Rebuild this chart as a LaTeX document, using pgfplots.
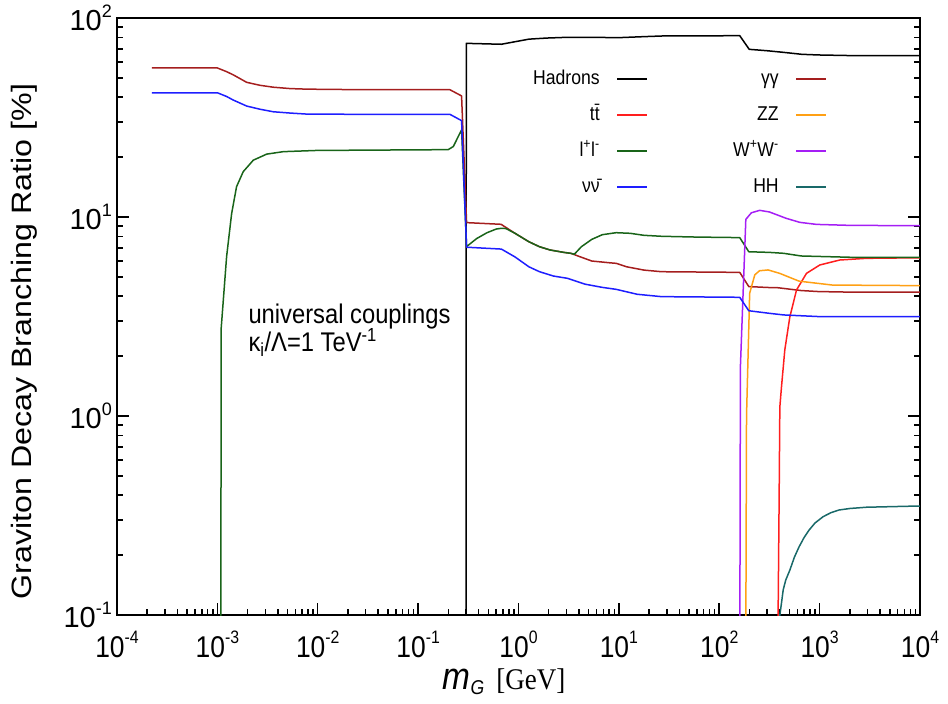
\documentclass[border=0pt]{standalone}
\usepackage{fontspec}
\setmainfont{Liberation Sans}
\newfontfamily\hf[FakeStretch=0.88]{Liberation Sans}
\newfontfamily\vf[FakeStretch=1.15]{Liberation Sans}
\newfontfamily\serifhf[FakeStretch=0.9]{Liberation Serif}
\usepackage{pgfplots}
\pgfplotsset{compat=1.18}
\definecolor{cHad}{RGB}{0,0,0}
\definecolor{cGam}{RGB}{165,30,30}
\definecolor{cTop}{RGB}{255,30,30}
\definecolor{cZZ}{RGB}{255,160,20}
\definecolor{cLL}{RGB}{25,100,25}
\definecolor{cWW}{RGB}{165,30,245}
\definecolor{cNu}{RGB}{30,30,255}
\definecolor{cHH}{RGB}{25,105,105}
\newcommand{\tk}[1]{10\raisebox{14pt}{\fontsize{18}{18}\selectfont #1}}
\newcommand{\tky}[1]{10\raisebox{13.5pt}{\fontsize{18}{18}\selectfont #1}}
\begin{document}
\begin{tikzpicture}
\begin{axis}[
  scale only axis, width=803pt, height=597pt,
  xmode=log, ymode=log,
  xmin=1e-4, xmax=1e4, ymin=0.1, ymax=100,
  xtick={1e-4,1e-3,1e-2,1e-1,1,10,100,1000,10000},
  xticklabels={\tk{-4},\tk{-3},\tk{-2},\tk{-1},\tk{0},\tk{1},\tk{2},\tk{3},\tk{4}},
  ytick={0.1,1,10,100},
  yticklabels={\tky{-1},\tky{0},\tky{1},\tky{2}},
  xtick pos=left, ytick pos=both,
  tick align=inside,
  major tick length=12pt, minor tick length=6pt,
  every tick/.style={black, line width=1.5pt},
  axis line style={line width=2pt},
  xticklabel style={font=\hf\fontsize{30}{32}\selectfont, anchor=north, inner sep=0pt, yshift=-16pt},
  yticklabel style={font=\fontsize{29}{32}\selectfont, anchor=east, inner sep=0pt, xshift=-5pt},
  every axis plot/.append style={line width=1.5pt, line join=round},
  legend columns=2, legend plot pos=right, legend cell align=right,
  legend image code/.code={\draw[#1] (0pt,0pt) -- (30pt,0pt);},
  legend style={draw=none, fill=none, at={(0.518,0.9146)}, anchor=north west, inner sep=0pt,
    font=\hf\fontsize{20}{20}\selectfont, row sep=16pt, column sep=17pt,
    /tikz/every even column/.append style={column sep=85pt},
    nodes={inner sep=0pt, text height=15pt, text depth=5pt}},
]
% Hadrons
\addplot[cHad] coordinates {(0.300,0.01) (0.302,74.6) (0.675,73.8) (0.923,76.0) (1.27,78.3) (1.90,79.3) (3.09,80.0) (5.82,80.0) (9.5,79.6) (17.8,80.6) (26.8,81.2) (160,81.5) (199,69.6) (298,68.5) (438,67.2) (664,65.7) (975,65.2) (2190,64.7) (10000,64.7)};
\addlegendentry{Hadrons}
% gamma gamma
\addplot[cGam] coordinates {(2.22e-4,56.1) (1.0e-3,56.1) (1.24e-3,53.7) (1.44e-3,51.8) (1.96e-3,47.5) (2.66e-3,45.9) (3.6e-3,44.9) (5.28e-3,44.2) (7.76e-3,43.9) (0.0307,43.6) (0.2075,43.6) (0.271,40.6) (0.304,9.37) (0.671,9.19) (0.923,8.28) (1.27,7.51) (1.62,7.09) (2.06,6.83) (2.83,6.64) (3.32,6.57) (3.91,6.37) (5.37,6.01) (8.02,5.89) (9.40,5.85) (11.97,5.62) (17.8,5.41) (26.6,5.31) (160,5.27) (197,4.47) (318,4.42) (372,4.42) (655,4.27) (975,4.22) (2170,4.19) (10000,4.19)};
\addlegendentry{γγ}
% t tbar
\addplot[cTop] coordinates {(384,0.01) (386,0.1) (395,0.378) (401.5,1.11) (417,1.40) (450,2.15) (505,3.15) (589,4.30) (740,5.21) (1004,5.74) (1590,6.08) (2930,6.2) (9720,6.24) (10000,6.24)};
\addlegendentry{t\={t}}
% ZZ
\addplot[cZZ] coordinates {(183.5,0.01) (184.3,0.1) (187,1.0) (201,4.14) (226,5.12) (252,5.37) (307,5.42) (400,5.21) (624,4.76) (1340,4.55) (10000,4.52)};
\addlegendentry{ZZ}
% l+ l-
\addplot[cLL] coordinates {(1.083e-3,0.01) (1.086e-3,0.1) (1.088e-3,2.7) (1.236e-3,6.32) (1.387e-3,10.4) (1.553e-3,14.2) (1.81e-3,16.9) (2.28e-3,19.3) (3.1e-3,20.7) (4.54e-3,21.3) (9.75e-3,21.6) (0.1995,21.8) (0.224,22.6) (0.271,27.4) (0.304,7.1) (0.384,7.8) (0.486,8.34) (0.6,8.7) (0.671,8.77) (0.75,8.75) (0.923,8.28) (1.27,7.51) (1.62,7.09) (2.06,6.83) (2.83,6.64) (3.32,6.57) (3.6,6.5) (4.23,7.09) (5.37,7.72) (6.84,8.15) (9.40,8.34) (12.97,8.28) (17.8,8.09) (26.6,8.0) (59.2,7.93) (160,7.88) (197,6.69) (318,6.64) (438,6.57) (655,6.37) (2170,6.27) (10000,6.27)};
\addlegendentry{l\textsuperscript{+}l\textsuperscript{-}}
% W+ W-
\addplot[cWW] coordinates {(160.0,0.01) (160.6,0.1) (162.5,1.77) (184,9.73) (209,10.5) (253,10.8) (316,10.6) (464,9.85) (634,9.4) (931,9.18) (1960,9.08) (10000,9.04)};
\addlegendentry{W\textsuperscript{+}W\textsuperscript{-}}
% nu nubar
\addplot[cNu] coordinates {(2.22e-4,42.1) (1.0e-3,42.1) (1.24e-3,40.3) (1.44e-3,38.7) (1.96e-3,36.1) (2.66e-3,34.8) (3.6e-3,33.8) (5.28e-3,33.3) (7.76e-3,32.9) (0.0307,32.8) (0.2075,32.8) (0.271,30.5) (0.304,7.05) (0.675,6.9) (0.923,6.3) (1.27,5.62) (1.62,5.31) (2.23,5.05) (3.07,4.92) (4.57,4.6) (6.83,4.43) (9.4,4.33) (15.2,4.09) (26.6,3.98) (160,3.95) (197,3.38) (318,3.28) (439,3.22) (975,3.16) (10000,3.16)};
\addlegendentry{ν\={ν}}
% HH
\addplot[cHH] coordinates {(400,0.09) (402,0.1) (434,0.134) (460,0.15) (505,0.168) (560,0.195) (624,0.22) (700,0.245) (785,0.267) (900,0.29) (1084,0.312) (1300,0.327) (1560,0.337) (2000,0.343) (2930,0.348) (9730,0.353) (10000,0.353)};
\addlegendentry{HH}
\node[anchor=base west, font=\hf\fontsize{27}{27}\selectfont] at (rel axis cs:0.1594,0.4891) {universal couplings};
\node[anchor=base west, font=\hf\fontsize{27}{27}\selectfont] at (rel axis cs:0.1594,0.4422) {κ\textsubscript{i}/Λ=1 TeV\textsuperscript{-1}};
\coordinate (ylab) at (rel axis cs:0,0.458);
\coordinate (xlab) at (rel axis cs:0.482,0);
\end{axis}
\node[rotate=90, anchor=base, font=\vf\fontsize{28}{28}\selectfont] at ([xshift=-85pt]ylab) {Graviton Decay Branching Ratio [\%]};
\node[anchor=base, inner sep=0pt] at ([yshift=-75pt]xlab) {{\hf\fontsize{38}{38}\selectfont\itshape m}\raisebox{-5pt}{\hf\fontsize{20}{20}\selectfont\itshape G}\hspace{12pt}{\serifhf\fontsize{30}{30}\selectfont [GeV]}};
\path ([shift={(-117pt,-89pt)}]current axis.south west) rectangle ++(948pt,704pt);
\end{tikzpicture}
\end{document}
